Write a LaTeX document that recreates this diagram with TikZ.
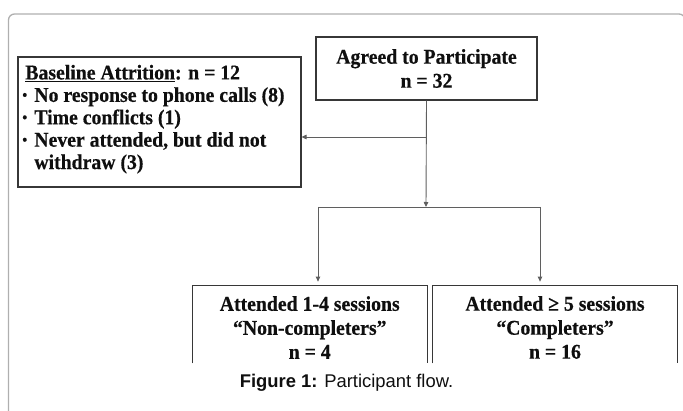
\documentclass[tikz,border=0pt]{standalone}
\definecolor{framegray}{RGB}{175, 175, 175}
\definecolor{boxgray}{RGB}{55, 55, 55}
\definecolor{linegray}{RGB}{95, 95, 95}
\definecolor{textblack}{RGB}{15, 15, 15}
\usepackage{fontspec}
\setmainfont{Liberation Serif}
\newfontfamily\boxfont[FakeStretch=0.94,FakeBold=0.5]{Liberation Serif}
\newfontfamily\capfont{Liberation Sans}
\usepackage{graphicx}
\usepackage{tikz}
\usetikzlibrary{arrows.meta}
\tikzset{every picture/.style={line width=0.75pt}}
\newcommand{\smallbullet}{\makebox[12pt][l]{\raisebox{2pt}{\scalebox{0.7}{\textbullet}}}}

\begin{document}
\begin{tikzpicture}[x=1pt,y=1pt,yscale=-1,
  flowbox/.style={draw=boxgray,line width=1.1pt,inner sep=0pt},
  flowtext/.style={text=textblack,inner sep=0pt,font=\boxfont\bfseries\fontsize{21}{22.4}\selectfont},
  flowline/.style={draw=linegray,line width=0.9pt},
  flowarrow/.style={flowline,-{Triangle[length=5pt,width=4.5pt]}}]
\useasboundingbox (0,0) rectangle (683,411);

%Shape: Rounded Rectangle [frame]
\draw [framegray,line width=1.3pt,rounded corners=6pt] (8.5,14) rectangle (685,440);

%Shape: Rectangle [agreed]
\node [flowbox,flowtext,align=center,minimum width=221pt,minimum height=63pt,
  font=\boxfont\bfseries\fontsize{21}{24}\selectfont] (agreed) at (426.5,68.5)
  {Agreed to Participate\\n = 32};

%Shape: Rectangle [attrition]
\node [flowbox,minimum width=283pt,minimum height=130pt] (attrition) at (159.5,122) {};
% Text Node
\node [flowtext,align=left,anchor=north west] (attritiontxt) at (22,64.5)
  {\hspace*{3pt}\underline{Baseline Attrition}: n = 12\\
   \smallbullet No response to phone calls (8)\\
   \smallbullet Time conflicts (1)\\
   \smallbullet Never attended, but did not\\
   \hspace*{12pt}withdraw (3)};

%Shape: open Rectangles [noncomp, comp]
\node [minimum width=234.5pt,minimum height=77pt,inner sep=0pt] (noncomp) at (309.75,324.5) {};
\node [minimum width=244pt,minimum height=77pt,inner sep=0pt] (comp) at (555,324.5) {};
\draw [boxgray,line width=1.1pt] (noncomp.south west) -- (noncomp.north west) -- (noncomp.north east) -- (noncomp.south east);
\draw [boxgray,line width=1.1pt] (comp.south west) -- (comp.north west) -- (comp.north east) -- (comp.south east);
% Text Node
\node [flowtext,align=center,font=\boxfont\bfseries\fontsize{21}{24}\selectfont] (noncomptxt) at (309.75,327.5)
  {Attended 1-4 sessions\\“Non-completers”\\n = 4};
% Text Node
\node [flowtext,align=center,font=\boxfont\bfseries\fontsize{21}{24}\selectfont] (comptxt) at (555,327.5)
  {Attended ≥ 5 sessions\\“Completers”\\n = 16};

%Connectors
\coordinate (tee) at (426,137);
\coordinate (hbarm) at (426,207);
\coordinate (hbarl) at (318,207);
\coordinate (hbarr) at (540,207);
\draw [flowarrow] (agreed.south) -- (hbarm);
\draw [flowarrow] (tee) -- (tee -| attrition.east);
\draw [flowline] (hbarl) -- (hbarr);
\draw [flowarrow,shorten >=4pt] (hbarl) -- (hbarl |- noncomp.north);
\draw [flowarrow,shorten >=4pt] (hbarr) -- (hbarr |- comp.north);

% Text Node [caption]
\node [anchor=base,inner sep=0pt,text=textblack,font=\capfont\fontsize{18.4}{20}\selectfont] (caption) at (346.5,388)
  {\textbf{Figure 1:} Participant flow.};
\end{tikzpicture}
\end{document}
